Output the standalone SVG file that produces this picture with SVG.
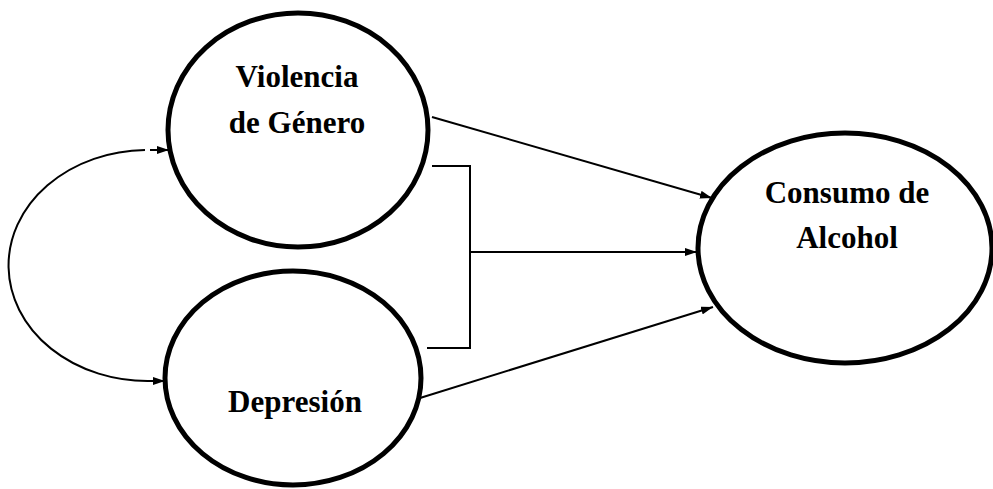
<svg xmlns="http://www.w3.org/2000/svg" width="993" height="489" viewBox="0 0 993 489">
<defs>
<marker id="arr" viewBox="0 0 12 8" refX="12" refY="4" markerWidth="12" markerHeight="8" markerUnits="userSpaceOnUse" orient="auto">
<path d="M0,0 L12,4 L0,8 z" fill="#000"/>
</marker>
</defs>
<style>
.node { fill: #fff; stroke: #000; stroke-width: 5; }
.lbl { font-family: "Liberation Serif", "Times New Roman", serif; font-weight: bold; font-size: 31px; fill: #000; text-anchor: middle; }
.edge { fill: none; stroke: #000; stroke-width: 2; }
</style>
<rect width="993" height="489" fill="#fff"/>
<g id="connectors">
<path class="edge" d="M 145 150 A 139 115.5 0 0 0 150 381 L 165 381" marker-end="url(#arr)"/>
<line class="edge" x1="150" y1="150" x2="169" y2="150" marker-end="url(#arr)"/>
<line class="edge" x1="432" y1="117" x2="712" y2="198" marker-end="url(#arr)"/>
<polyline class="edge" points="432,166 470,166 470,348 427,348"/>
<line class="edge" x1="470" y1="252" x2="697" y2="252" marker-end="url(#arr)"/>
<line class="edge" x1="420" y1="398" x2="713" y2="307" marker-end="url(#arr)"/>
</g>
<g id="violencia">
<ellipse class="node" cx="298" cy="130" rx="130" ry="117"/>
<text class="lbl" x="297" y="87">Violencia</text>
<text class="lbl" x="297" y="133">de Género</text>
</g>
<g id="depresion">
<ellipse class="node" cx="293" cy="378" rx="128" ry="107"/>
<text class="lbl" x="295" y="412">Depresión</text>
</g>
<g id="consumo">
<ellipse class="node" cx="845" cy="248" rx="147" ry="115"/>
<text class="lbl" x="847" y="203">Consumo de</text>
<text class="lbl" x="847" y="248">Alcohol</text>
</g>
</svg>
